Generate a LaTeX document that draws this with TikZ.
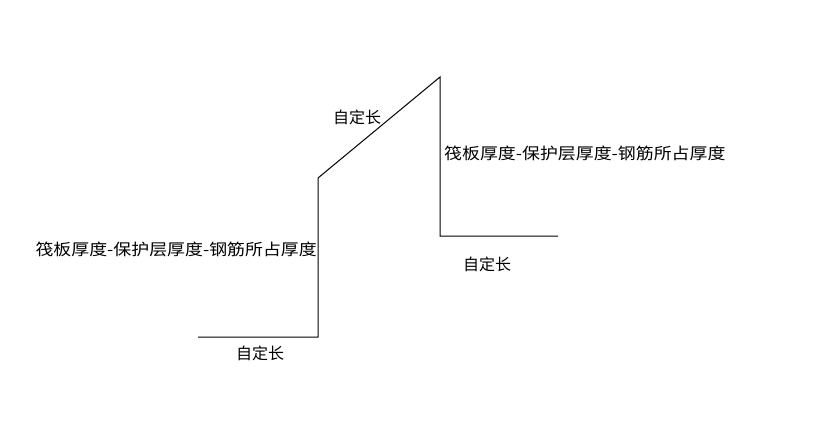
\documentclass[tikz,border=0pt]{standalone}
\usepackage{fontspec}
\newfontfamily\cjk{Noto Sans CJK SC}
\usetikzlibrary{positioning}

\begin{document}
\begin{tikzpicture}[x=1pt,y=-1pt,font=\cjk\fontsize{16}{18}\selectfont]
        \useasboundingbox (0,0) rectangle (819,444);
        % Corner points of the bent bar
        \coordinate (a) at (198,337);
        \coordinate (b) at (318,337);
        \coordinate (c) at (318,178);
        \coordinate (d) at (440,77);
        \coordinate (e) at (440,236);
        \coordinate (f) at (558,236);
        
        % Draw the bar
        \draw[line width=1pt] (a) -- (b) -- (c) -- (d) -- (e) -- (f);
        
        % Add length labels
        \node (lenA) at (260,353) {自定长};
        \node (lenB) at (357,117) {自定长};
        \node (lenC) at (487,264) {自定长};
        
        % Add thickness labels
        \node[anchor=east, inner sep=0pt, xscale=1.12] (thkA) at (317,249) {筏板厚度-保护层厚度-钢筋所占厚度};
        \node[anchor=west, inner sep=0pt, xscale=1.12] (thkB) at (444,153) {筏板厚度-保护层厚度-钢筋所占厚度};
    \end{tikzpicture}
\end{document}
